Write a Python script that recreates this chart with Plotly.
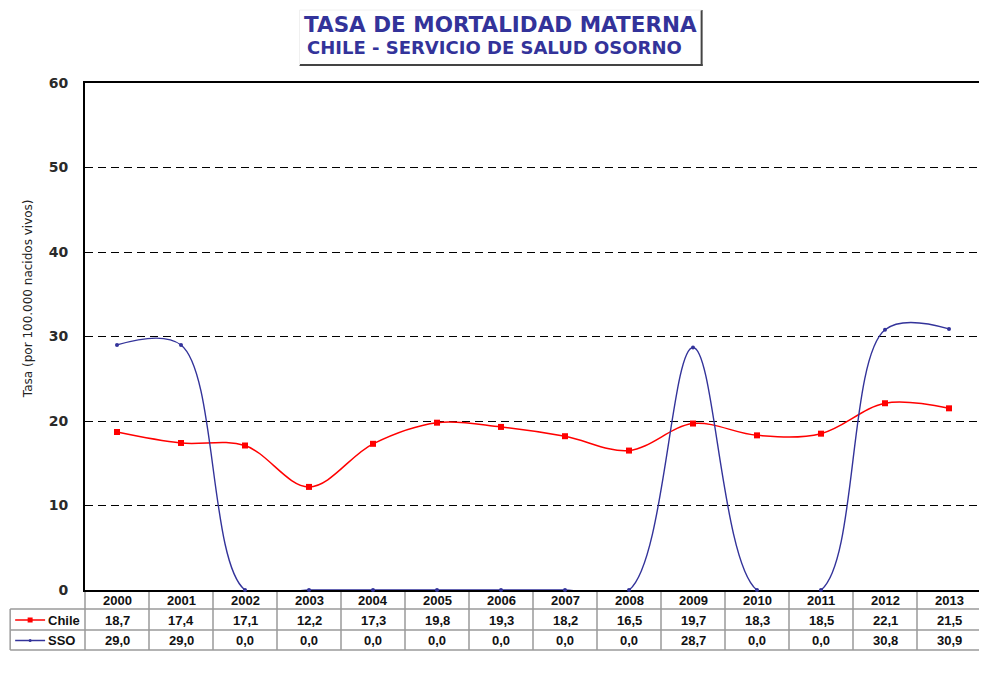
import plotly.graph_objects as go

years = [2000, 2001, 2002, 2003, 2004, 2005, 2006, 2007, 2008, 2009, 2010, 2011, 2012, 2013]
chile = [18.7, 17.4, 17.1, 12.2, 17.3, 19.8, 19.3, 18.2, 16.5, 19.7, 18.3, 18.5, 22.1, 21.5]
sso = [29.0, 29.0, 0.0, 0.0, 0.0, 0.0, 0.0, 0.0, 0.0, 28.7, 0.0, 0.0, 30.8, 30.9]
series_names = ["Chile", "SSO"]
y_ticks = [0, 10, 20, 30, 40, 50, 60]

title1 = "TASA DE MORTALIDAD MATERNA"
title2 = "CHILE - SERVICIO DE SALUD OSORNO"
y_title = "Tasa (por 100.000 nacidos vivos)"

RED = "#FF0000"
NAVY = "#33339A"
GRID_GRAY = "#9a9a9a"

# the page body has an 8px margin; work in reference-pixel coordinates
OFF = 8
W, H = 987 - OFF, 673 - OFF
PLOT_L, PLOT_R, PLOT_T, PLOT_B = 85, 983, 83, 590
ML = PLOT_L - OFF
MR = W - (PLOT_R - OFF)
MT = PLOT_T - OFF
MB = H - (PLOT_B - OFF)
PH = PLOT_B - PLOT_T
PW = PLOT_R - PLOT_L


def py(pix):
    return (PLOT_B - pix) / PH


def px(pix):
    return (pix - PLOT_L) / PW


def fmt(v):
    return f"{v:.1f}".replace(".", ",")


fig = go.Figure()
fig.add_trace(go.Scatter(
    x=years, y=chile, name=series_names[0], mode="lines+markers",
    line=dict(color=RED, width=1.5, shape="spline", smoothing=1.0),
    marker=dict(symbol="square", size=6, color=RED),
    cliponaxis=False, showlegend=False))
fig.add_trace(go.Scatter(
    x=years, y=sso, name=series_names[1], mode="lines+markers",
    line=dict(color=NAVY, width=1.4, shape="spline", smoothing=1.0),
    marker=dict(symbol="circle", size=4, color=NAVY),
    cliponaxis=False, showlegend=False))

shapes = []
annotations = []

row_top = 590
row_lines = [609, 630, 650]
row_centers = [600, 620, 640.5]
for yl in row_lines:
    shapes.append(dict(type="line", xref="paper", yref="paper", layer="below",
                       x0=px(10), x1=px(PLOT_R), y0=py(yl), y1=py(yl),
                       line=dict(color=GRID_GRAY, width=1.5)))
for i in range(1, len(years)):
    xb = years[i] - 0.5
    shapes.append(dict(type="line", xref="x", yref="paper", layer="below",
                       x0=xb, x1=xb, y0=py(row_top), y1=py(row_lines[-1]),
                       line=dict(color=GRID_GRAY, width=1.5)))
for xp in [px(PLOT_L), px(PLOT_R)]:
    shapes.append(dict(type="line", xref="paper", yref="paper", layer="below",
                       x0=xp, x1=xp, y0=py(row_top), y1=py(row_lines[-1]),
                       line=dict(color=GRID_GRAY, width=1.5)))
shapes.append(dict(type="line", xref="paper", yref="paper", layer="below",
                   x0=px(10), x1=px(10), y0=py(row_lines[0]), y1=py(row_lines[-1]),
                   line=dict(color=GRID_GRAY, width=1.5)))

tfont = dict(family="Liberation Sans, Arial", size=13, color="#111111", weight="bold")


def ann(x, y, text, font, xref="paper", xanchor="center", **kw):
    d = dict(x=x, y=y, xref=xref, yref="paper", text=text, showarrow=False,
             xanchor=xanchor, yanchor="middle", font=font)
    d.update(kw)
    annotations.append(d)


for i, yr in enumerate(years):
    ann(yr, py(row_centers[0]), str(yr), tfont, xref="x")
    ann(yr, py(row_centers[1]), fmt(chile[i]), tfont, xref="x")
    ann(yr, py(row_centers[2]), fmt(sso[i]), tfont, xref="x")

for name, color, rc, sym in [(series_names[0], RED, row_centers[1], "sq"),
                             (series_names[1], NAVY, row_centers[2], "dot")]:
    shapes.append(dict(type="line", xref="paper", yref="paper",
                       x0=px(15), x1=px(45), y0=py(rc), y1=py(rc),
                       line=dict(color=color, width=1.5)))
    if sym == "sq":
        shapes.append(dict(type="rect", xref="paper", yref="paper",
                           x0=px(27.5), x1=px(32.5), y0=py(rc + 2.5), y1=py(rc - 2.5),
                           line=dict(width=0), fillcolor=color))
    else:
        shapes.append(dict(type="circle", xref="paper", yref="paper",
                           x0=px(28.5), x1=px(31.5), y0=py(rc + 1.5), y1=py(rc - 1.5),
                           line=dict(width=0), fillcolor=color))
    ann(px(46), py(rc), name, tfont, xanchor="left")

# title box with shadow
shapes.append(dict(type="line", xref="paper", yref="paper",
                   x0=px(300), x1=px(704), y0=py(65), y1=py(65),
                   line=dict(color="#444444", width=2)))
shapes.append(dict(type="line", xref="paper", yref="paper",
                   x0=px(703), x1=px(703), y0=py(10), y1=py(66),
                   line=dict(color="#444444", width=2)))
shapes.append(dict(type="line", xref="paper", yref="paper",
                   x0=px(300), x1=px(703), y0=py(10), y1=py(10),
                   line=dict(color="#f0f0f0", width=1)))
shapes.append(dict(type="line", xref="paper", yref="paper",
                   x0=px(300), x1=px(300), y0=py(10), y1=py(65),
                   line=dict(color="#f0f0f0", width=1)))

ann(px(501), py(24), "<b>" + title1 + "</b>",
    dict(family="DejaVu Sans", size=21.5, color=NAVY))
ann(px(495), py(47), "<b>" + title2 + "</b>",
    dict(family="DejaVu Sans", size=18, color=NAVY))
ann(px(28), py(299), y_title,
    dict(family="DejaVu Sans", size=12, color="#222222"), textangle=-90)

fig.update_layout(
    width=W, height=H,
    margin=dict(l=ML, r=MR, t=MT, b=MB),
    paper_bgcolor="white", plot_bgcolor="white",
    shapes=shapes, annotations=annotations,
    showlegend=False,
)
fig.update_xaxes(range=[years[0] - 0.5, years[-1] + 0.5], showticklabels=False,
                 showgrid=False, zeroline=False, ticks="", layer="below traces",
                 showline=True, linecolor="#000000", linewidth=1.5, mirror=True)
fig.update_yaxes(range=[0, 60], tickvals=y_ticks, showgrid=True,
                 gridcolor="#000000", gridwidth=1.3, griddash="8px,5px",
                 zeroline=False, ticks="", ticklabelstandoff=12, layer="below traces",
                 tickfont=dict(family="DejaVu Sans", size=14, color="#2a2a2a", weight="bold"),
                 showline=True, linecolor="#000000", linewidth=1.8, mirror=True)

fig.write_html("out.html")
